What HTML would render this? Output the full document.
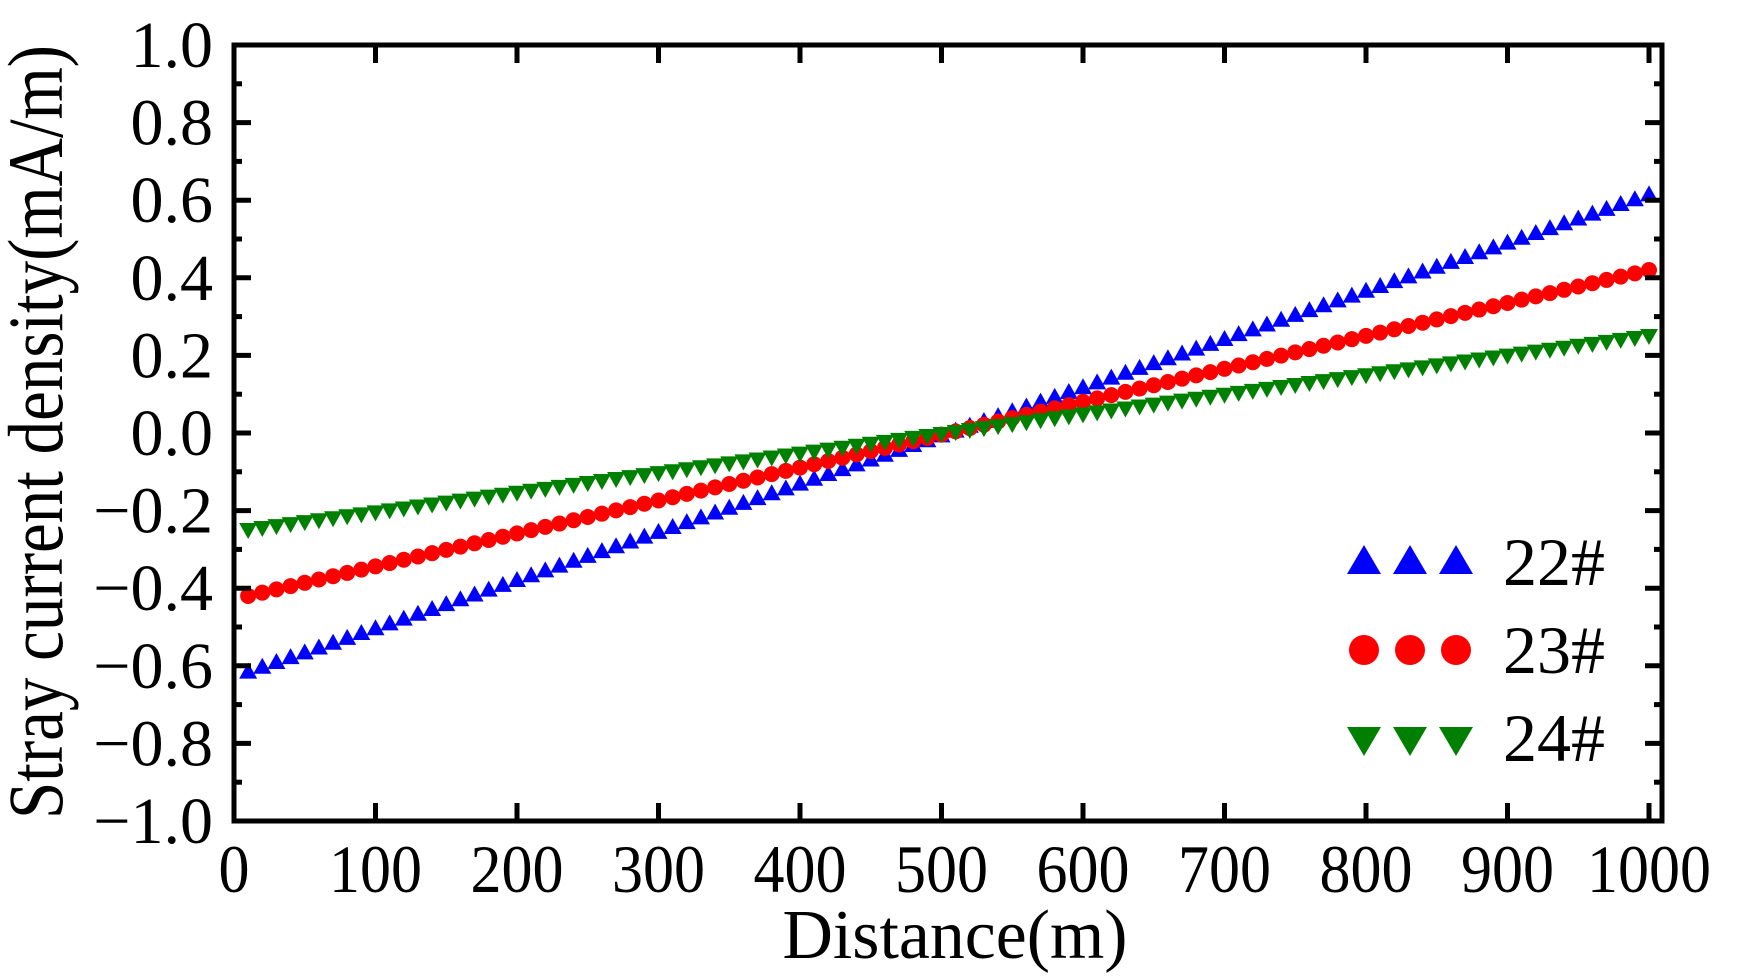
<!DOCTYPE html>
<html><head><meta charset="utf-8"><style>html,body{margin:0;padding:0;background:#fff}svg{display:block}</style></head>
<body>
<svg id="s" width="1738" height="979" viewBox="0 0 1738 979" xmlns="http://www.w3.org/2000/svg" font-family="Liberation Serif, serif">
<rect width="1738" height="979" fill="#fff"/>
<g id="data"></g>
<rect x="234" y="45" width="1428" height="776" fill="none" stroke="#000" stroke-width="5"/>
<g id="ticks" stroke="#000" stroke-width="5"></g>
<g id="labels" font-size="66" fill="#000"></g>
<text x="955" y="958" font-size="70" text-anchor="middle" textLength="345" lengthAdjust="spacingAndGlyphs">Distance(m)</text>
<text transform="translate(62,432) rotate(-90)" font-size="78" text-anchor="middle" textLength="774" lengthAdjust="spacingAndGlyphs">Stray current density(mA/m)</text>
<g>
<polygon points="1347,574 1364,545 1381,574" fill="#0000ff"/>
<polygon points="1393,574 1410,545 1427,574" fill="#0000ff"/>
<polygon points="1439,574 1456,545 1473,574" fill="#0000ff"/>
<circle cx="1364" cy="650" r="15" fill="#ff0000"/>
<circle cx="1410" cy="650" r="15" fill="#ff0000"/>
<circle cx="1456" cy="650" r="15" fill="#ff0000"/>
<polygon points="1347,727 1364,756 1381,727" fill="#008000"/>
<polygon points="1393,727 1410,756 1427,727" fill="#008000"/>
<polygon points="1439,727 1456,756 1473,727" fill="#008000"/>
<text x="1503" y="585" font-size="68" textLength="102" lengthAdjust="spacingAndGlyphs">22#</text>
<text x="1503" y="673" font-size="68" textLength="102" lengthAdjust="spacingAndGlyphs">23#</text>
<text x="1503" y="761" font-size="68" textLength="102" lengthAdjust="spacingAndGlyphs">24#</text>
</g>
</svg>
<script>
(function(){
var NS="http://www.w3.org/2000/svg";
function el(t,a,p){var e=document.createElementNS(NS,t);for(var k in a)e.setAttribute(k,a[k]);p.appendChild(e);return e;}
var X=function(v){return 234+v*1.415;};
var Y=function(v){return 433-v*388;};
var d=document.getElementById('data'),tk=document.getElementById('ticks'),lb=document.getElementById('labels');
var specs=[{a:0.25,c:'#008000',m:'dn'},{a:0.42,c:'#ff0000',m:'c'},{a:0.615,c:'#0000ff',m:'up'}];
[specs[2],specs[1],specs[0]].forEach(function(s){
for(var i=1;i<=100;i++){var x=i*10;var v=s.a*(x-505)/495;var px=X(x),py=Y(v);
if(s.m=='c')el('circle',{cx:px,cy:py,r:8,fill:s.c},d);
else if(s.m=='up')el('polygon',{points:(px-9)+','+(py+7)+' '+px+','+(py-9)+' '+(px+9)+','+(py+7),fill:s.c},d);
else el('polygon',{points:(px-9)+','+(py-7)+' '+px+','+(py+9)+' '+(px+9)+','+(py-7),fill:s.c},d);}
});
for(var i=0;i<=10;i++){var x=X(i*100);
el('line',{x1:x,y1:821,x2:x,y2:803},tk);el('line',{x1:x,y1:45,x2:x,y2:63},tk);
var t=el('text',{x:x,y:892,'text-anchor':'middle','font-size':68},lb);t.textContent=String(i*100);
var n=String(i*100).length;t.setAttribute('textLength',n*31);t.setAttribute('lengthAdjust','spacingAndGlyphs');}
for(var j=-10;j<=10;j++){var v=j/10,y=Y(v);var maj=(j%2==0);var L=maj?17:8;
el('line',{x1:234,y1:y,x2:234+L,y2:y},tk);el('line',{x1:1662,y1:y,x2:1662-L,y2:y},tk);
if(maj){var t=el('text',{x:213,y:y+22,'text-anchor':'end'},lb);t.textContent=(v<0?'\u2212':'')+Math.abs(v).toFixed(1);}}
})();
</script>
</body></html>
